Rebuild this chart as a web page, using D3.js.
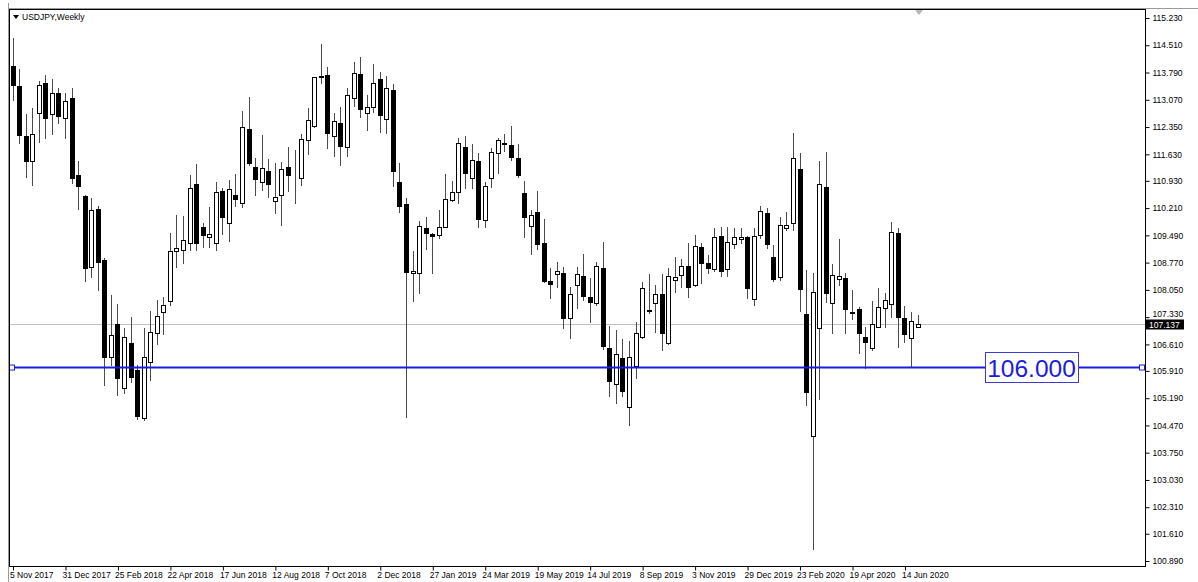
<!DOCTYPE html>
<html><head><meta charset="utf-8">
<script src="https://cdn.jsdelivr.net/npm/d3@7"></script>
<style>
html,body{margin:0;padding:0;background:#fff;overflow:hidden;}
svg{display:block;font-family:"Liberation Sans",Arial,sans-serif;}
</style></head><body>
<svg id="c" width="1198" height="582"></svg>
<script>
// ---- data (USDJPY weekly) ----
const firstWeek = "2017-11-05";
const open = [113.97,113.43,112.11,111.46,112.71,113.51,112.69,113.24,112.58,113.11,
111.08,110.53,108.65,110.19,108.84,106.29,107.15,105.45,106.64,105.94,
104.66,106.15,106.92,107.47,107.76,109.08,109.09,109.30,110.85,109.72,
109.44,109.28,110.66,109.81,110.56,110.34,112.30,111.30,110.91,111.20,
110.41,110.56,111.30,111.03,111.00,112.01,112.38,113.68,113.72,112.11,
112.45,111.83,113.11,113.75,112.73,112.87,113.62,112.55,113.33,110.91,
110.31,108.49,108.49,109.68,109.53,109.50,109.72,110.42,110.63,111.82,
111.00,111.45,109.90,111.00,111.66,111.93,111.88,111.53,110.60,109.75,
110.10,109.28,108.29,108.47,108.49,107.30,108.18,108.42,107.85,107.71,
108.62,106.52,105.57,106.24,104.95,106.04,106.81,107.53,107.70,107.94,
106.64,108.31,108.44,108.68,108.18,109.19,108.77,108.60,109.48,108.60,
109.26,109.40,109.44,107.81,109.50,110.07,108.93,108.38,109.68,109.81,
111.23,107.41,104.20,107.04,110.76,107.70,108.33,108.36,107.43,107.54,
106.81,106.51,107.08,107.56,107.67,109.54,107.30,106.77,107.08];
const high = [114.71,113.88,112.69,112.85,113.57,113.72,113.61,113.37,113.26,113.37,
111.46,110.56,110.47,110.27,108.88,107.92,107.68,107.04,107.33,106.07,
107.04,107.50,107.78,107.87,109.54,110.03,110.00,111.08,111.37,109.82,
110.25,110.89,110.73,110.95,111.11,112.78,113.15,111.53,112.14,111.50,
111.41,111.44,111.82,111.74,112.17,112.85,113.68,114.54,113.93,112.71,
112.87,113.37,114.06,114.19,113.20,114.02,113.80,113.70,113.49,111.39,
110.47,109.08,109.88,109.98,109.54,110.16,111.11,110.93,112.05,112.12,
111.89,111.67,110.91,111.79,112.05,112.17,112.39,111.90,110.93,110.16,
110.66,109.92,108.62,108.79,108.65,108.13,108.66,109.00,108.36,108.79,
109.31,107.10,106.99,106.75,106.71,107.21,108.25,108.47,108.18,108.47,
108.62,108.93,108.86,109.28,109.50,109.28,108.97,109.68,109.70,109.70,
109.69,109.68,109.46,109.68,110.27,110.20,109.24,109.98,110.11,112.19,
111.67,108.58,108.49,111.46,111.70,108.73,109.39,108.50,108.05,107.61,
107.06,107.76,108.09,107.96,109.83,109.69,107.62,107.46,107.39];
const low = [113.06,111.92,111.04,110.82,111.96,112.05,112.16,112.45,112.05,110.88,
110.19,108.29,108.40,108.05,105.54,106.07,105.27,105.32,105.63,104.63,
104.61,105.67,106.62,106.89,107.65,108.65,108.75,109.10,109.10,109.19,
109.19,109.10,109.53,109.35,110.27,110.25,111.35,110.56,110.69,110.50,
110.09,109.76,110.67,110.35,110.82,111.64,112.36,113.51,111.79,111.59,
111.35,111.59,112.91,112.61,112.27,112.76,112.21,112.19,110.79,110.11,
104.70,107.76,107.96,109.13,108.49,109.41,109.70,110.41,110.34,110.73,
110.73,109.72,109.70,110.78,111.13,111.73,111.48,111.02,109.45,109.00,
109.13,108.25,107.83,108.13,107.04,106.77,107.56,107.78,107.21,107.65,
106.48,105.25,105.06,105.25,104.48,105.72,106.77,107.43,106.95,106.46,
106.62,108.00,108.13,107.87,108.15,108.22,108.50,108.56,108.42,108.42,
109.15,109.30,107.83,107.65,109.41,109.15,108.29,108.31,109.63,109.63,
107.50,105.00,101.20,105.16,107.74,106.90,108.18,106.92,107.27,106.38,
105.98,106.46,107.06,107.08,107.34,106.55,106.68,106.03,107.06];
const close = [113.46,112.14,111.46,112.16,113.46,112.58,113.26,112.64,113.04,111.01,
110.80,108.64,110.16,108.79,106.29,106.86,105.72,106.81,105.76,104.72,
106.27,106.95,107.36,107.65,109.08,109.16,109.37,110.73,109.28,109.50,
109.53,110.63,109.98,110.71,110.45,112.34,111.39,110.97,111.26,110.85,
110.50,111.24,111.08,111.04,112.03,112.54,113.66,113.70,112.19,112.52,
111.85,113.19,113.79,112.83,112.89,113.52,112.67,113.39,111.19,110.27,
108.51,108.55,109.75,109.54,109.48,109.72,110.44,110.63,111.92,111.14,
111.48,109.91,110.80,111.70,112.01,111.90,111.57,111.08,109.97,110.03,
109.26,108.29,108.21,108.55,107.32,107.94,108.47,107.89,107.74,108.68,
106.57,105.65,106.35,105.39,106.27,106.90,108.11,107.50,107.94,106.90,
108.42,108.40,108.68,108.13,109.22,108.77,108.62,109.44,108.56,109.32,
109.44,109.44,108.09,109.48,110.14,109.26,108.33,109.76,109.76,111.54,
108.07,105.35,108.00,110.85,107.98,108.44,108.42,107.54,107.47,106.90,
106.68,107.15,107.61,107.78,109.57,107.34,106.88,107.22,107.137];
const dateTicks = ["5 Nov 2017","31 Dec 2017","25 Feb 2018","22 Apr 2018","17 Jun 2018","12 Aug 2018",
"7 Oct 2018","2 Dec 2018","27 Jan 2019","24 Mar 2019","19 May 2019","14 Jul 2019","8 Sep 2019",
"3 Nov 2019","29 Dec 2019","23 Feb 2020","19 Apr 2020","14 Jun 2020"];
const priceTicks = [115.230,114.510,113.790,113.070,112.350,111.630,110.930,110.210,109.490,108.770,
108.050,107.330,106.610,105.910,105.190,104.470,103.750,103.030,102.310,101.610,100.890];
const hLineLevel = 106.000;
const lastPrice = 107.137;
const title = "USDJPY,Weekly";

// ---- build ----
const svg = d3.select("#c");
const parse = d3.utcParse("%Y-%m-%d");
const parseTick = d3.utcParse("%e %b %Y");
const start = parse(firstWeek);
const weeks = open.map((d,i)=>d3.utcDay.offset(start, 7*i));
const candles = weeks.map((w,i)=>({date:w,o:open[i],h:high[i],l:low[i],c:close[i]}));

const L=9, R=1145, T=9, B=566;
const x = d3.scaleUtc().domain([weeks[0], weeks[weeks.length-1]]).range([12.5, 917.6]);
const y = d3.scaleLinear().domain([100.89, 115.23]).range([561, 18]);

svg.append("rect").attr("x",0).attr("y",0).attr("width",1198).attr("height",582).attr("fill","#fff");
svg.append("line").attr("x1",8.5).attr("x2",8.5).attr("y1",3).attr("y2",582).attr("stroke","#9a9a9a");
svg.append("line").attr("x1",8).attr("x2",1198).attr("y1",8.5).attr("y2",8.5).attr("stroke","#9a9a9a");

const clipId="plotclip";
svg.append("clipPath").attr("id",clipId).append("rect").attr("x",L).attr("y",T).attr("width",R-L).attr("height",B-T);
const plot = svg.append("g").attr("clip-path",`url(#${clipId})`);

// last price line
plot.append("line").attr("x1",L).attr("x2",R).attr("y1",Math.round(y(lastPrice))+0.5).attr("y2",Math.round(y(lastPrice))+0.5)
  .attr("stroke","#c0c0c0").attr("stroke-width",1);

// candles
const cg = plot.append("g").attr("shape-rendering","crispEdges");
candles.forEach(d=>{
  const cx = Math.round(x(d.date));
  cg.append("line").attr("x1",cx+0.5).attr("x2",cx+0.5)
    .attr("y1",Math.round(y(d.h))).attr("y2",Math.round(y(d.l))+1)
    .attr("stroke","#4a4a4a").attr("stroke-width",1);
  const top = Math.round(y(Math.max(d.o,d.c)));
  const bot = Math.round(y(Math.min(d.o,d.c)));
  const bull = d.c >= d.o;
  cg.append("rect").attr("x",cx-1.5).attr("y",top+0.5).attr("width",4).attr("height",Math.max(bot-top,0))
    .attr("fill",bull?"#fff":"#000").attr("stroke","#000").attr("stroke-width",1);
});

// horizontal line at 106.000
const hy = y(hLineLevel);
plot.append("line").attr("x1",L).attr("x2",R).attr("y1",hy).attr("y2",hy).attr("stroke","#1c1cdc").attr("stroke-width",2);
[12, R-3].forEach(px=>{
  plot.append("rect").attr("x",px-2.5).attr("y",hy-2.5).attr("width",5).attr("height",5)
    .attr("fill","#fff").attr("stroke","#1c1cdc").attr("stroke-width",1);
});
const lbl = svg.append("g");
lbl.append("rect").attr("x",985.5).attr("y",352.5).attr("width",93).attr("height",30)
  .attr("fill","#fff").attr("stroke","#3a3ad8").attr("stroke-width",1);
lbl.append("text").attr("x",1031.5).attr("y",376.5).attr("text-anchor","middle")
  .attr("font-size",24.5).attr("fill","#1c1cdc").text(d3.format(".3f")(hLineLevel));

// frame
svg.append("rect").attr("x",L+0.5).attr("y",T+0.5).attr("width",R-L).attr("height",B-T)
  .attr("fill","none").attr("stroke","#000").attr("stroke-width",1).attr("shape-rendering","crispEdges");

// right price axis
const ya = svg.append("g").attr("transform",`translate(${R+0.5},0)`)
  .call(d3.axisRight(y).tickValues(priceTicks).tickFormat(d3.format(".3f")).tickSize(4).tickPadding(3));
ya.select(".domain").remove();
ya.selectAll("text").attr("font-size",8.5).attr("fill","#000").attr("font-family","Liberation Sans, Arial, sans-serif");
ya.selectAll("line").attr("stroke","#000");
// the tag for the last price covers the tick label underneath it, as in the terminal
ya.selectAll(".tick").filter(d=>Math.abs(y(d)-y(lastPrice))<9).select("text").attr("dy","-0.05em");

// last price tag
const ly = y(lastPrice);
svg.append("rect").attr("x",R+1).attr("y",Math.round(ly)-4.5).attr("width",38).attr("height",10).attr("fill","#000");
svg.append("text").attr("x",R+4).attr("y",Math.round(ly)+3.5).attr("font-size",8.5).attr("fill","#fff").text(lastPrice.toFixed(3));

// bottom time axis
const tickDates = dateTicks.map(parseTick);
const xa = svg.append("g").attr("transform",`translate(0,${B+0.5})`)
  .call(d3.axisBottom(x).tickValues(tickDates).tickFormat((d,i)=>dateTicks[i]).tickSize(4).tickPadding(1));
xa.select(".domain").remove();
xa.selectAll("line").attr("stroke","#000").attr("transform","translate(0.5,0)");
xa.selectAll("text").attr("text-anchor","start").attr("dx",-3).attr("font-size",8.5).attr("fill","#000")
  .attr("font-family","Liberation Sans, Arial, sans-serif");

// title
svg.append("path").attr("d","M13,15 L19,15 L16,19 Z").attr("fill","#000");
svg.append("text").attr("x",22).attr("y",20).attr("font-size",8.5).attr("fill","#000").text(title);

// chart shift marker
svg.append("path").attr("d","M915,10 L923,10 L919,15 Z").attr("fill","#b8b8b8");
</script>
</body></html>
